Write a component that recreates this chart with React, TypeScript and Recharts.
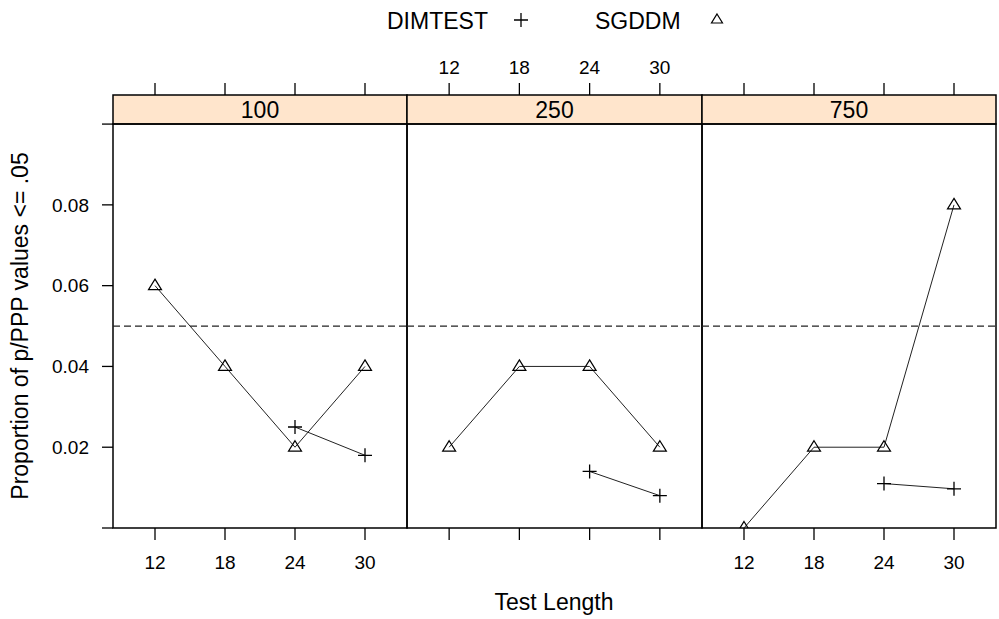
import React from "react";
import {
  LineChart, Line, XAxis, YAxis, ReferenceArea, ReferenceLine,
} from "recharts";

// conditioning panels (sample size) and x categories
const sampleSizes = ["100", "250", "750"];
const testLengths = [12, 18, 24, 30];
const xTickLabels = ["12", "18", "24", "30"];

// proportion of p/PPP values <= .05, one array per panel
const sgddm100 = [0.06, 0.04, 0.02, 0.04];
const dimtest100 = [null, null, 0.025, 0.018];
const sgddm250 = [0.02, 0.04, 0.04, 0.02];
const dimtest250 = [null, null, 0.014, 0.008];
const sgddm750 = [0, 0.02, 0.02, 0.08];
const dimtest750 = [null, null, 0.011, 0.0097];

const yTicks = [0, 0.02, 0.04, 0.06, 0.08, 0.1];
const yTickLabels = ["", "0.02", "0.04", "0.06", "0.08", ""];
const cutoff = 0.05;

const sgddmSeries = [sgddm100, sgddm250, sgddm750];
const dimtestSeries = [dimtest100, dimtest250, dimtest750];

const W = 999;
const H = 619;
const FONT = "'Liberation Sans', Arial, sans-serif";
const X_DOMAIN: [number, number] = [8.4, 33.6];
const PANEL_TOP = 0.1;
const STRIP_TOP = 0.1072; // strip lives in the plot area, above the panel
const edges = [113, 407, 702, 996];

const panels = sampleSizes.map((size, i) => ({
  size,
  rows: testLengths.map((x, j) => ({
    x,
    sgddm: sgddmSeries[i][j],
    dimtest: dimtestSeries[i][j],
  })),
}));

function bad(cx: any, cy: any) {
  return cx == null || cy == null || Number.isNaN(cx) || Number.isNaN(cy);
}

function TriangleDot(props: any) {
  const { cx, cy, index } = props;
  if (bad(cx, cy)) return <g key={`t${index}`} />;
  return (
    <path
      key={`t${index}`}
      d={`M${cx},${cy - 6.5}L${cx + 6.5},${cy + 4}L${cx - 6.5},${cy + 4}Z`}
      fill="none"
      stroke="#000"
      strokeWidth={1.2}
    />
  );
}

function PlusDot(props: any) {
  const { cx, cy, index } = props;
  if (bad(cx, cy)) return <g key={`p${index}`} />;
  return (
    <path
      key={`p${index}`}
      d={`M${cx - 7},${cy}H${cx + 7}M${cx},${cy - 7}V${cy + 7}`}
      stroke="#000"
      strokeWidth={1.3}
    />
  );
}

const tickStyle = { fill: "#000", fontSize: 19, fontFamily: FONT };
const tickLine = { stroke: "#000", strokeWidth: 1.3 };

function Panel({ i }: { i: number }) {
  const p = panels[i];
  const first = i === 0;
  const last = i === panels.length - 1;
  const showTop = i === 1;
  return (
    <div style={{ position: "absolute", left: 0, top: 0 }}>
      <LineChart
        width={W}
        height={H}
        data={p.rows}
        margin={{
          top: 75,
          bottom: 61,
          left: first ? edges[0] - 40 : edges[i],
          right: last ? 0 : W - edges[i + 1],
        }}
      >
        <XAxis
          xAxisId="b"
          dataKey="x"
          type="number"
          domain={X_DOMAIN}
          ticks={testLengths}
          allowDataOverflow
          height={30}
          axisLine={false}
          tickSize={12}
          tickMargin={16}
          tickLine={tickLine}
          tick={tickStyle}
          tickFormatter={(v, k) => (showTop ? "" : xTickLabels[k])}
        />
        <XAxis
          xAxisId="t"
          orientation="top"
          dataKey="x"
          type="number"
          domain={X_DOMAIN}
          ticks={testLengths}
          allowDataOverflow
          height={20}
          axisLine={false}
          tickSize={12}
          tickMargin={9}
          tickLine={tickLine}
          tick={tickStyle}
          tickFormatter={(v, k) => (showTop ? xTickLabels[k] : "")}
        />
        <YAxis
          yAxisId="l"
          type="number"
          domain={[0, STRIP_TOP]}
          allowDataOverflow
          hide={!first}
          width={40}
          ticks={yTicks}
          interval={0}
          axisLine={false}
          tickSize={11}
          tickMargin={13}
          tickLine={tickLine}
          tick={tickStyle}
          tickFormatter={(v, k) => yTickLabels[k]}
        />
        {last && (
          <YAxis
            yAxisId="r"
            orientation="right"
            type="number"
            domain={[0, STRIP_TOP]}
            allowDataOverflow
            width={3}
            ticks={yTicks}
            interval={0}
            axisLine={false}
            tickSize={11}
            tickLine={tickLine}
            tick={false}
          />
        )}
        <ReferenceArea
          xAxisId="b"
          yAxisId="l"
          x1={X_DOMAIN[0]}
          x2={X_DOMAIN[1]}
          y1={PANEL_TOP}
          y2={STRIP_TOP}
          fill="#ffe5cc"
          fillOpacity={1}
          stroke="#000"
          strokeWidth={1.5}
          label={{ value: p.size, position: "center", fontSize: 23, fill: "#000", fontFamily: FONT }}
        />
        <ReferenceLine
          xAxisId="b"
          yAxisId="l"
          y={cutoff}
          stroke="#222"
          strokeWidth={1.2}
          strokeDasharray="7 4"
        />
        <Line
          xAxisId="b"
          yAxisId="l"
          type="linear"
          dataKey="sgddm"
          stroke="#222"
          strokeWidth={1}
          dot={TriangleDot}
          activeDot={false}
          isAnimationActive={false}
        />
        <Line
          xAxisId="b"
          yAxisId="l"
          type="linear"
          dataKey="dimtest"
          stroke="#222"
          strokeWidth={1}
          dot={PlusDot}
          activeDot={false}
          isAnimationActive={false}
        />
        <ReferenceArea
          xAxisId="b"
          yAxisId="l"
          x1={X_DOMAIN[0]}
          x2={X_DOMAIN[1]}
          y1={0}
          y2={PANEL_TOP}
          fill="none"
          stroke="#000"
          strokeWidth={1.5}
        />
      </LineChart>
    </div>
  );
}

export default function App() {
  return (
    <div
      style={{
        position: "absolute",
        left: 0,
        top: 0,
        width: W,
        height: H,
        background: "#fff",
        fontFamily: FONT,
      }}
    >
      {panels.map((_, i) => (
        <Panel key={i} i={i} />
      ))}
      <svg
        width={W}
        height={H}
        style={{ position: "absolute", left: 0, top: 0, pointerEvents: "none" }}
      >
        <g fontFamily={FONT} fontSize={23} fill="#000">
          <text x={387} y={29}>DIMTEST</text>
          <path d="M514,20H528M521,13V27" stroke="#000" strokeWidth={1.3} />
          <text x={595} y={29}>SGDDM</text>
          <path d="M717,14L722.5,23L711.5,23Z" fill="none" stroke="#000" strokeWidth={1.2} />
          <text x={554} y={610} textAnchor="middle">Test Length</text>
          <text x={28} y={326} textAnchor="middle" transform="rotate(-90 28 326)">
            Proportion of p/PPP values &lt;= .05
          </text>
        </g>
      </svg>
    </div>
  );
}
